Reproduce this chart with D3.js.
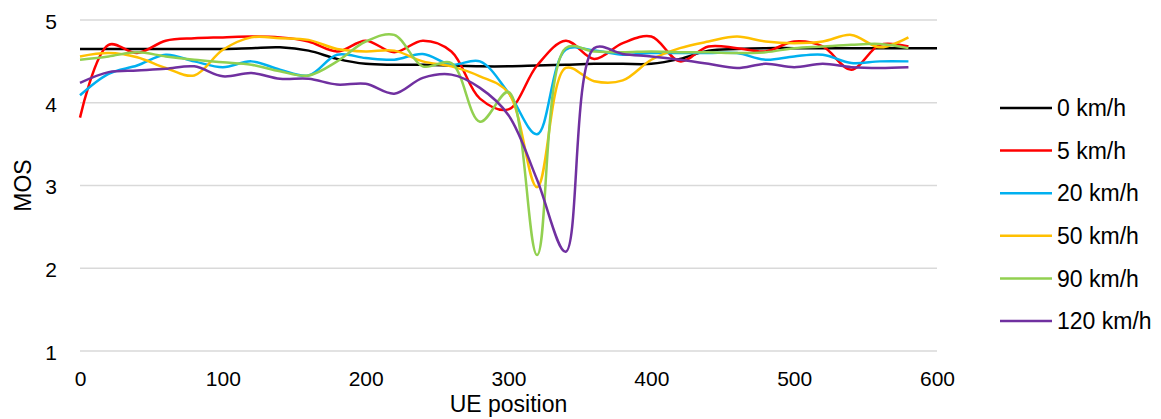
<!DOCTYPE html>
<html>
<head>
<meta charset="utf-8">
<script src="https://cdn.jsdelivr.net/npm/d3@7"></script>
<style>
  body { margin: 0; background: #fff; }
  text { font-family: "Liberation Sans", Arial, sans-serif; fill: #000; }
</style>
</head>
<body>
<script>
// UE positions (every 20 m)
var positions = d3.range(0, 581, 20);
var positionsBlack = d3.range(0, 601, 20);

var mos0 = [4.65, 4.65, 4.65, 4.65, 4.65, 4.65, 4.66, 4.67, 4.63, 4.53, 4.47, 4.46, 4.46, 4.45, 4.44, 4.44,
  4.45, 4.46, 4.47, 4.47, 4.47, 4.53, 4.63, 4.65, 4.66, 4.66, 4.66, 4.66, 4.66, 4.66, 4.66];
var mos5 = [3.82, 4.70, 4.60, 4.75, 4.78, 4.79, 4.80, 4.79, 4.74, 4.62, 4.75, 4.61, 4.75, 4.62, 4.05, 3.92,
  4.45, 4.75, 4.53, 4.72, 4.80, 4.50, 4.68, 4.66, 4.62, 4.74, 4.68, 4.40, 4.70, 4.68];
var mos20 = [4.09, 4.35, 4.45, 4.58, 4.50, 4.43, 4.50, 4.40, 4.33, 4.58, 4.54, 4.52, 4.59, 4.46, 4.50, 4.12,
  3.62, 4.64, 4.63, 4.58, 4.60, 4.60, 4.60, 4.60, 4.52, 4.56, 4.58, 4.48, 4.50, 4.50];
var mos50 = [4.56, 4.60, 4.55, 4.42, 4.33, 4.64, 4.79, 4.78, 4.76, 4.65, 4.62, 4.63, 4.50, 4.44, 4.32, 4.12,
  2.98, 4.42, 4.26, 4.27, 4.52, 4.66, 4.74, 4.80, 4.74, 4.72, 4.74, 4.82, 4.67, 4.79];
var mos90 = [4.52, 4.56, 4.61, 4.56, 4.52, 4.49, 4.46, 4.38, 4.33, 4.50, 4.74, 4.82, 4.44, 4.48, 3.77, 4.13,
  2.16, 4.66, 4.62, 4.61, 4.62, 4.61, 4.61, 4.60, 4.61, 4.66, 4.68, 4.70, 4.71, 4.66];
var mos120 = [4.24, 4.37, 4.39, 4.41, 4.44, 4.32, 4.36, 4.29, 4.29, 4.22, 4.23, 4.11, 4.30, 4.34, 4.18, 3.85,
  3.07, 2.20, 4.66, 4.59, 4.56, 4.52, 4.47, 4.42, 4.47, 4.43, 4.47, 4.43, 4.42, 4.43];

var seriesNames = ["0 km/h", "5 km/h", "20 km/h", "50 km/h", "90 km/h", "120 km/h"];
var seriesColors = ["#000000", "#ff0000", "#00b0f0", "#ffc000", "#92d050", "#7030a0"];
var yTicks = [1, 2, 3, 4, 5];
var xTicks = [0, 100, 200, 300, 400, 500, 600];

var series = [
  {name: seriesNames[0], color: seriesColors[0], x: positionsBlack, y: mos0},
  {name: seriesNames[1], color: seriesColors[1], x: positions, y: mos5},
  {name: seriesNames[2], color: seriesColors[2], x: positions, y: mos20},
  {name: seriesNames[3], color: seriesColors[3], x: positions, y: mos50},
  {name: seriesNames[4], color: seriesColors[4], x: positions, y: mos90},
  {name: seriesNames[5], color: seriesColors[5], x: positions, y: mos120}
];

var svg = d3.select("body")
  .append("svg")
    .attr("width", 1161)
    .attr("height", 419);

var x = d3.scaleLinear().domain([0, 600]).range([80, 937]);
var y = d3.scaleLinear().domain([1, 5]).range([351, 20]);

// gridlines
svg.append("g").selectAll("line")
  .data(yTicks)
  .enter().append("line")
    .attr("x1", x(0))
    .attr("x2", x(600))
    .attr("y1", function(d) { return y(d); })
    .attr("y2", function(d) { return y(d); })
    .attr("stroke", "#d9d9d9")
    .attr("stroke-width", 1.5);

var yAxis = svg.append("g")
  .attr("transform", "translate(" + x(0) + ",0)")
  .call(d3.axisLeft(y).tickValues(yTicks).tickSize(0).tickPadding(23).tickFormat(d3.format("d")));
yAxis.select(".domain").remove();
yAxis.selectAll("text")
  .style("font-size", "21px")
  .attr("dy", "0.4em");

var xAxis = svg.append("g")
  .attr("transform", "translate(0," + y(1) + ")")
  .call(d3.axisBottom(x).tickValues(xTicks).tickSize(0).tickPadding(20).tickFormat(d3.format("d")));
xAxis.select(".domain").remove();
xAxis.selectAll("text")
  .style("font-size", "21px");

svg.append("text")
  .attr("x", (x(0) + x(600)) / 2)
  .attr("y", 412)
  .attr("text-anchor", "middle")
  .style("font-size", "23px")
  .text("UE position");

svg.append("text")
  .attr("transform", "translate(31," + ((y(1) + y(5)) / 2) + ") rotate(-90)")
  .attr("text-anchor", "middle")
  .style("font-size", "23px")
  .text("MOS");

// centripetal Catmull-Rom: smooth like the spreadsheet curves, less overshoot at the dips
var line = d3.line()
  .curve(d3.curveCatmullRom.alpha(0.5));

svg.append("g").selectAll("path")
  .data(series)
  .enter().append("path")
    .attr("fill", "none")
    .attr("stroke", function(d) { return d.color; })
    .attr("stroke-width", 2.5)
    .attr("d", function(d) {
      return line(d.y.map(function(v, i) { return [x(d.x[i]), y(v)]; }));
    });

// legend
var legend = svg.append("g").selectAll("g")
  .data(series)
  .enter().append("g")
    .attr("transform", function(d, i) { return "translate(1000," + (108 + i * 42.6) + ")"; });
legend.append("line")
  .attr("x1", 0)
  .attr("x2", 52)
  .attr("stroke", function(d) { return d.color; })
  .attr("stroke-width", 2.5);
legend.append("text")
  .attr("x", 57)
  .attr("dy", "0.36em")
  .style("font-size", "23px")
  .text(function(d) { return d.name; });
</script>
</body>
</html>
